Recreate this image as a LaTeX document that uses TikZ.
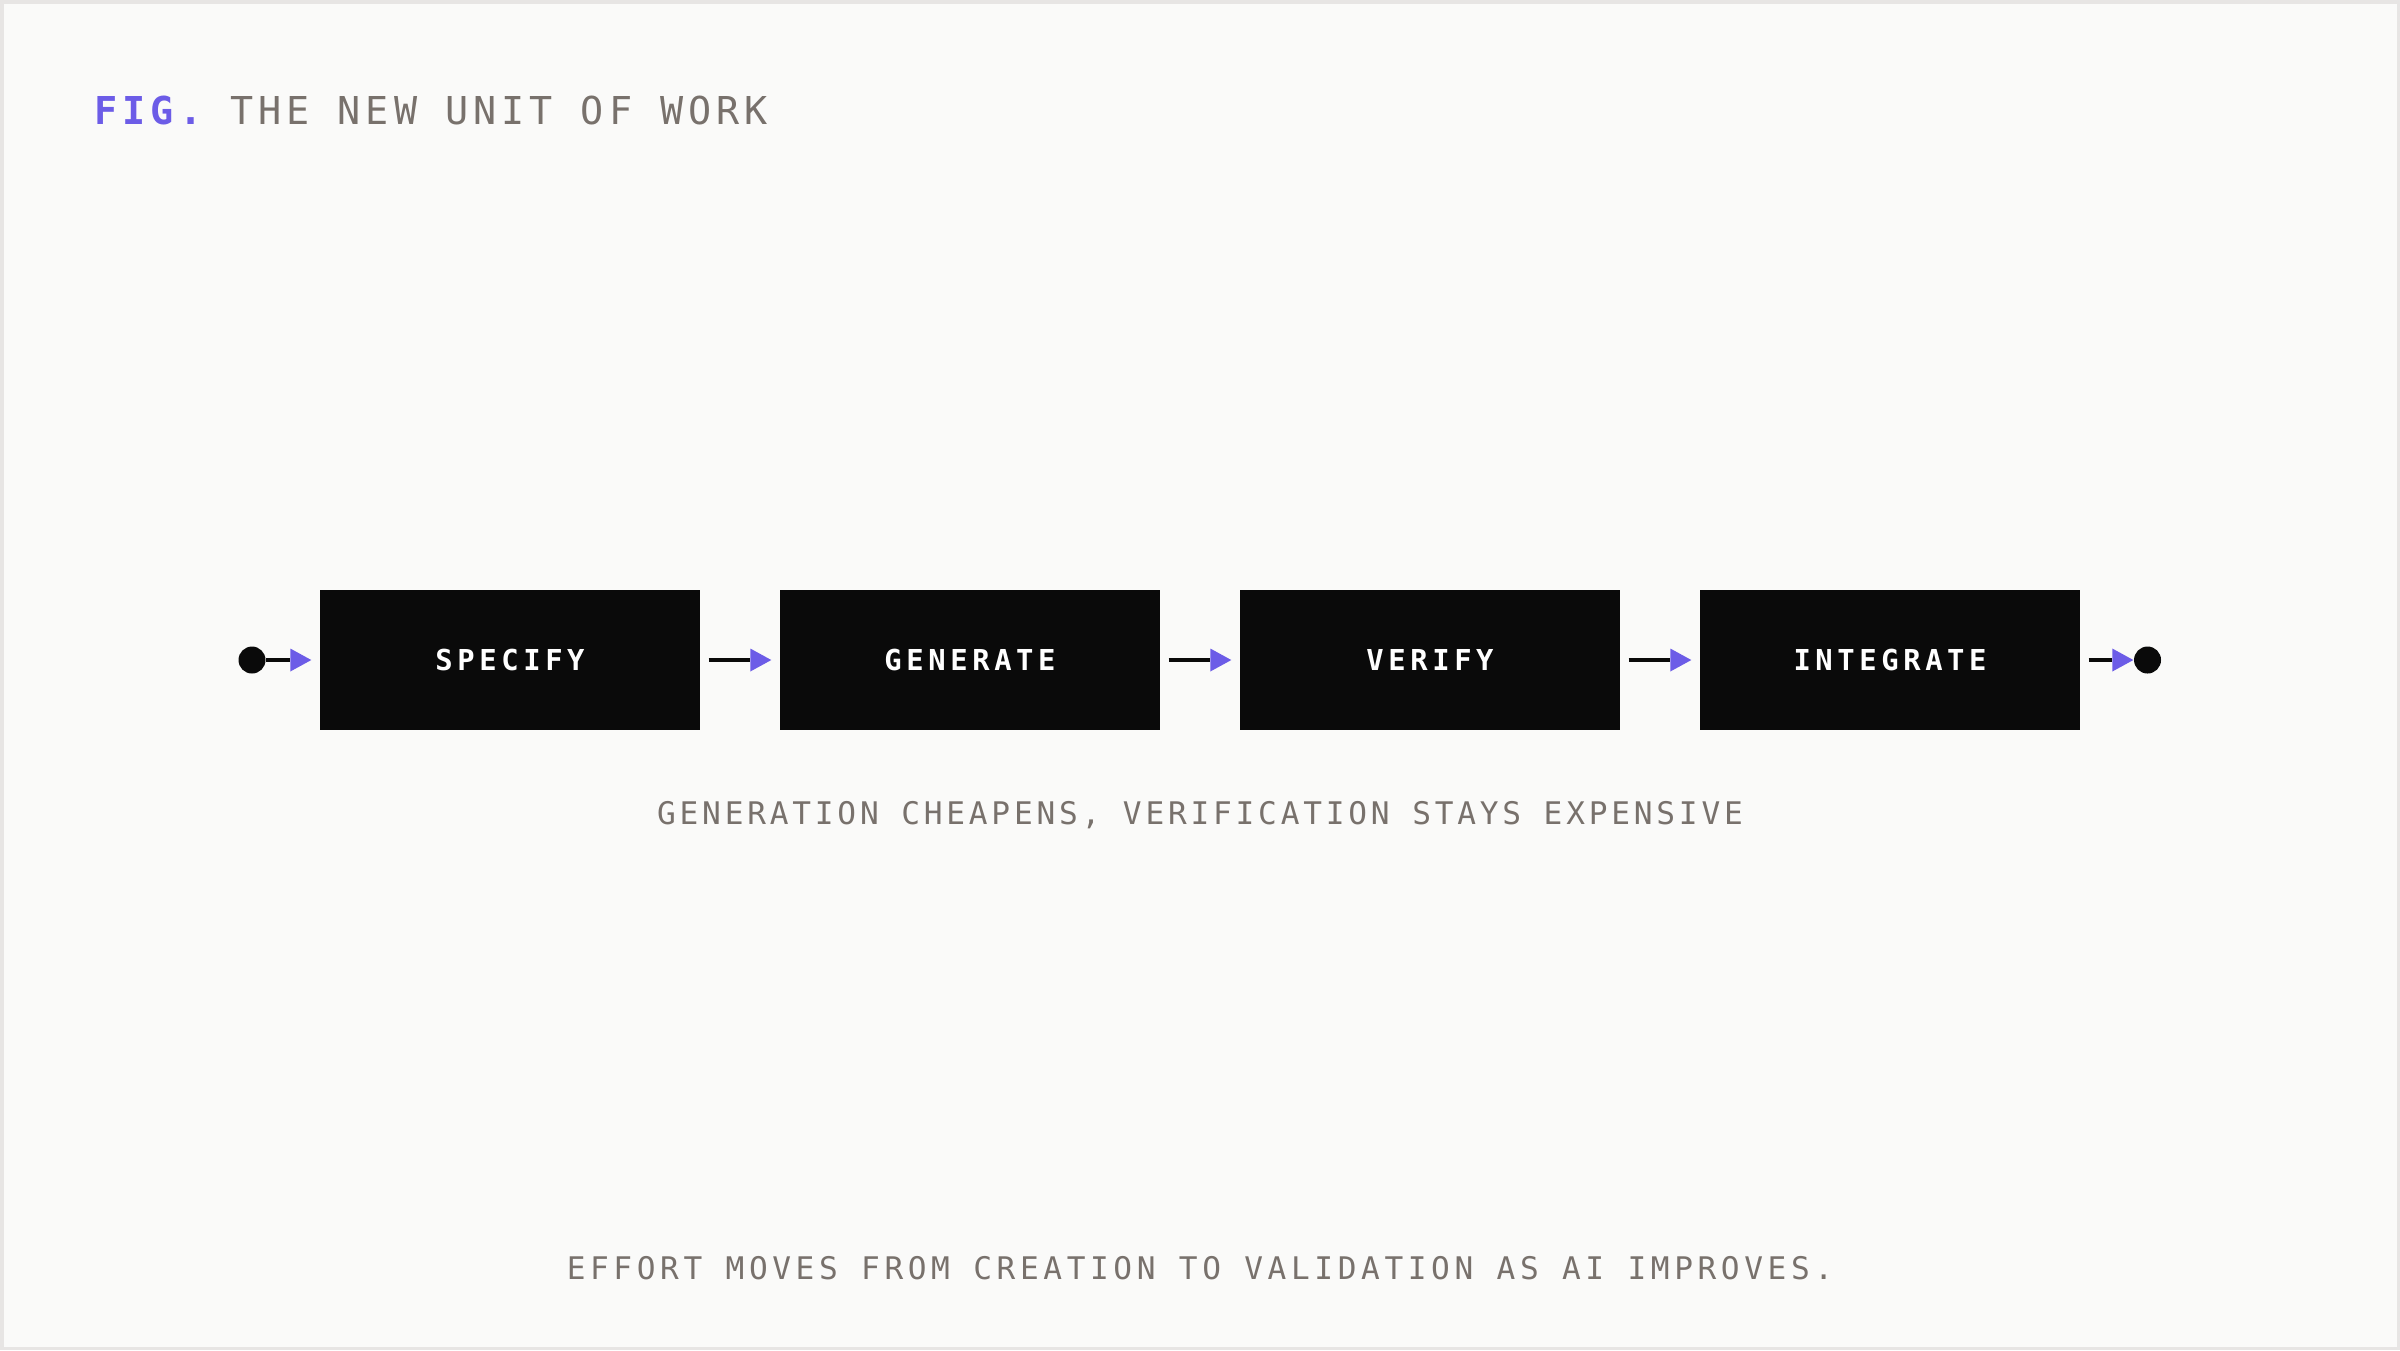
\documentclass[tikz,border=0pt]{standalone}
\usepackage{fontspec}
\usepackage{xcolor}
\usepackage{tikz}
\usetikzlibrary{arrows.meta}
\newfontfamily\titlefont[LetterSpace=13]{DejaVu Sans Mono}
\newfontfamily\capfont[LetterSpace=12.2]{DejaVu Sans Mono}
\newfontfamily\notefont[LetterSpace=14.8]{DejaVu Sans Mono}
\newfontfamily\stagefont[LetterSpace=16]{DejaVu Sans Mono}
\definecolor{accent}{HTML}{6C5CE7}
\definecolor{ink}{HTML}{0A0A0A}
\definecolor{muted}{HTML}{78716C}
\definecolor{paper}{HTML}{FAFAF9}
\definecolor{rule}{HTML}{E7E5E4}

\begin{document}
\begin{tikzpicture}[
      stage/.style={fill=ink, minimum width=3.8cm, minimum height=1.4cm, inner sep=0pt,
      text=white, font=\stagefont\bfseries\fontsize{8.2}{10}\selectfont},
      dot/.style={circle, fill=ink, minimum size=0.27cm, inner sep=0pt},
      caption/.style={text=muted, inner sep=0pt, anchor=base,
      font=\capfont\fontsize{8.86}{10}\selectfont},
      flow/.style={line width=0.04cm, draw=ink, shorten <=0.08cm, shorten >=0.08cm},
      >={Triangle[length=0.21cm, width=0.23cm, line width=0pt, color=accent]}]
    \useasboundingbox (0,0) rectangle (24,-13.5);
    \draw[fill=paper, draw=rule, line width=0.035cm] (0.0175,-0.0175) rectangle (23.9825,-13.4825);
    \node[anchor=base west, inner sep=0pt, font=\titlefont\fontsize{10.93}{12}\selectfont] (title) at (0.94,-1.24)
      {\textcolor{accent}{\bfseries FIG.} \textcolor{muted}{THE NEW UNIT OF WORK}};
    \node[dot] (start) at (2.52,-6.6) {};
    \node[stage] (specify) at (5.1,-6.6) {SPECIFY};
    \node[stage] (generate) at (9.7,-6.6) {GENERATE};
    \node[stage] (verify) at (14.3,-6.6) {VERIFY};
    \node[stage] (integrate) at (18.9,-6.6) {INTEGRATE};
    \node[dot] (finish) at (21.475,-6.6) {};
    \node[caption] (cost) at (12,-8.24) {GENERATION CHEAPENS, VERIFICATION STAYS EXPENSIVE};
    \node[caption, font=\notefont\fontsize{8.86}{10}\selectfont] (shift) at (12,-12.79)
      {EFFORT MOVES FROM CREATION TO VALIDATION AS AI IMPROVES.};
    \draw[->,flow,shorten <=0pt] (start)--(specify);
    \draw[->,flow] (specify)--(generate);
    \draw[->,flow] (generate)--(verify);
    \draw[->,flow] (verify)--(integrate);
    \draw[->,flow,shorten >=0pt] (integrate)--(finish);
  \end{tikzpicture}
\end{document}
